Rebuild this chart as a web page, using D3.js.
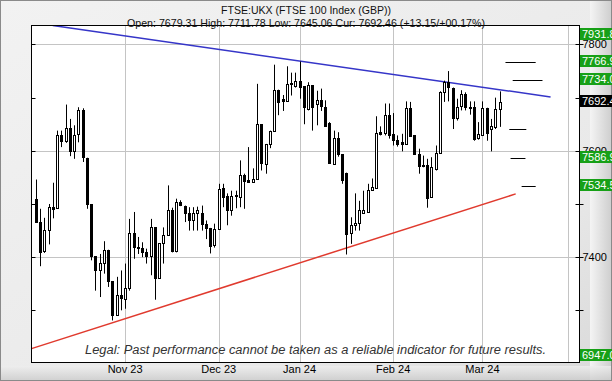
<!DOCTYPE html>
<html><head><meta charset="utf-8">
<script src="https://cdn.jsdelivr.net/npm/d3@7"></script>
<style>html,body{margin:0;padding:0;background:#fff;} svg{display:block}</style>
</head><body><svg id="c" width="612" height="381"></svg>
<script>
// Daily candles, 3 Oct 2023 .. 7 Mar 2024 (trading-day index 0..109)
const openP  = [7510,7467,7411,7451,7495,7492,7629,7618,7643,7599,7630,7676,7587,7500,7402,7376,7389,7414,7355,7291,
                7328,7322,7342,7445,7419,7417,7410,7402,7456,7361,7426,7441,7488,7411,7503,7496,7483,7469,7483,7483,
                7462,7455,7422,7453,7530,7515,7489,7516,7513,7555,7545,7542,7547,7650,7576,7613,7638,7715,7697,7693,
                7725,7723,7732,7721,7678,7723,7688,7695,7683,7652,7576,7625,7594,7559,7445,7460,7463,7483,7485,7527,
                7530,7635,7633,7667,7631,7621,7616,7613,7681,7629,7594,7574,7574,7512,7566,7596,7710,7729,7719,7662,
                7683,7706,7683,7683,7623,7631,7681,7640,7645,7679.31];
const highP  = [7546,7491,7474,7500,7540,7638,7638,7687,7660,7648,7682,7680,7587,7500,7402,7406,7430,7414,7355,7363,
                7375,7388,7472,7485,7438,7428,7416,7472,7456,7426,7456,7535,7493,7510,7507,7497,7494,7494,7495,7497,
                7469,7455,7463,7538,7538,7520,7525,7525,7582,7557,7607,7567,7726,7650,7613,7638,7762,7715,7705,7759,
                7747,7747,7768,7721,7729,7723,7713,7717,7695,7654,7638,7635,7594,7559,7475,7520,7506,7525,7538,7548,
                7665,7646,7689,7689,7671,7629,7632,7693,7692,7629,7604,7591,7585,7588,7610,7712,7732,7750,7719,7698,
                7714,7710,7693,7693,7654,7693,7681,7660,7700,7711.78];
const lowP   = [7466,7383,7408,7424,7473,7491,7607,7615,7590,7585,7616,7579,7491,7394,7337,7325,7369,7344,7281,7290,
                7300,7303,7337,7397,7406,7400,7388,7366,7320,7359,7388,7440,7409,7409,7496,7466,7450,7450,7450,7450,
                7434,7407,7418,7453,7494,7460,7478,7492,7494,7491,7541,7541,7547,7563,7557,7605,7638,7667,7675,7695,
                7704,7719,7698,7650,7676,7638,7648,7675,7646,7576,7574,7589,7538,7405,7425,7450,7450,7482,7485,7525,
                7530,7629,7629,7623,7610,7608,7599,7612,7627,7593,7557,7569,7493,7512,7563,7596,7692,7693,7641,7657,
                7676,7676,7668,7619,7621,7629,7619,7599,7641,7645.06];
const closeP = [7467,7411,7451,7495,7492,7629,7618,7643,7599,7630,7676,7587,7500,7402,7376,7389,7414,7355,7291,7328,
                7322,7342,7445,7418,7417,7409,7402,7456,7361,7426,7441,7488,7411,7503,7497,7483,7469,7483,7489,7462,
                7455,7422,7453,7529,7513,7489,7515,7514,7555,7544,7541,7547,7650,7576,7613,7638,7715,7693,7693,7725,
                7727,7732,7720,7681,7724,7682,7695,7683,7648,7576,7625,7594,7545,7445,7460,7464,7488,7488,7527,7532,
                7633,7631,7667,7629,7619,7614,7613,7681,7629,7594,7572,7572,7512,7569,7596,7710,7729,7719,7662,7683,
                7706,7682,7682,7623,7631,7681,7634,7646,7679,7692.46];

const monthLabels = ["Nov 23","Dec 23","Jan 24","Feb 24","Mar 24",""];
const monthIndex  = [21,43,62,84,105,125];
const yTickValues = [7300,7400,7500,7600,7700,7800];
const yLabelValues = [7400,7600,7800];

const levelValues = [7931.8,7766.9,7734.0,7692.46,7586.9,7534.5,6947.0];
const levelLabels = ["7931.8","7766.9","7734.0","7692.4","7586.9","7534.5","6947.0"];
const levelIsCurrent = [false,false,false,true,false,false,false];

const dashValues = [7766.9,7734.0,7640.4,7586.9,7534.5];
const dashFrom   = [110.4,112.1,111.3,111.6,114.2];
const dashTo     = [117.5,119.1,115.3,115.1,117.5];

const resistIndex = [4,121];
const resistValue = [7835.7,7701.3];
const supportIndex = [-1,112.8];
const supportValue = [7228,7519];

const titleText = "FTSE:UKX (FTSE 100 Index (GBP))";
const subText = "Open: 7679.31 High: 7711.78 Low: 7645.06 Cur: 7692.46 (+13.15/+00.17%)";
const legalText = "Legal:  Past performance cannot be taken as a reliable indicator for future results.";

const W = 612, H = 381;
const L = 31.5, R = 579.5, T = 25.5, B = 362.5;
const FONT = "Liberation Sans, Arial, sans-serif";
const svg = d3.select("#c");
const defs = svg.append("defs");
const g1 = defs.append("linearGradient").attr("id","bg").attr("x1",0).attr("y1",0).attr("x2",1).attr("y2",1);
g1.append("stop").attr("offset","0").attr("stop-color","#f2f2f2");
g1.append("stop").attr("offset","0.7").attr("stop-color","#e9e9e9");
g1.append("stop").attr("offset","1").attr("stop-color","#d9d9d9");
const g2 = defs.append("linearGradient").attr("id","rs").attr("x1",0).attr("y1",0).attr("x2",1).attr("y2",0);
g2.append("stop").attr("offset","0").attr("stop-color","#f4f4f4");
g2.append("stop").attr("offset","1").attr("stop-color","#cdcdcd");
const g3 = defs.append("linearGradient").attr("id","bs").attr("x1",0).attr("y1",0).attr("x2",0).attr("y2",1);
g3.append("stop").attr("offset","0").attr("stop-color","#eeeeee");
g3.append("stop").attr("offset","1").attr("stop-color","#c9c9c9");
defs.append("clipPath").attr("id","pc").append("rect").attr("x",L).attr("y",T).attr("width",R-L).attr("height",B-T);

svg.append("rect").attr("x",0).attr("y",0).attr("width",W).attr("height",H).attr("fill","url(#bg)");
svg.append("rect").attr("x",590).attr("y",0).attr("width",22).attr("height",H).attr("fill","url(#rs)");
svg.append("rect").attr("x",0).attr("y",366).attr("width",W).attr("height",15).attr("fill","url(#bs)").attr("opacity",0.8);
svg.append("rect").attr("x",0.5).attr("y",0.5).attr("width",W-1).attr("height",H-1).attr("fill","none").attr("stroke","#8a8a8a").attr("stroke-width",1);

const x = d3.scaleLinear().domain([-1,127.8]).range([L,R]);
const y = d3.scaleLinear().domain([7201.9,7835.7]).range([B,T]);
const px = v => Math.round(v) + 0.5;

svg.append("rect").attr("x",L).attr("y",T).attr("width",R-L).attr("height",B-T).attr("fill","#fff");

// grid
const grid = svg.append("g").attr("stroke","#c4c4c4").attr("stroke-width",1);
grid.selectAll("line.v").data(monthIndex).join("line")
  .attr("x1",d=>px(x(d))).attr("x2",d=>px(x(d))).attr("y1",T).attr("y2",B);
grid.selectAll("line.h").data(yLabelValues).join("line").attr("class","h")
  .attr("x1",L).attr("x2",R).attr("y1",d=>px(y(d))).attr("y2",d=>px(y(d)));

// trend lines
const lineGen = d3.line().x(d=>x(d[0])).y(d=>y(d[1]));
const plot = svg.append("g").attr("clip-path","url(#pc)");
plot.append("path").attr("d",lineGen(d3.zip(resistIndex,resistValue))).attr("stroke","#3535c8").attr("stroke-width",1.5).attr("fill","none");
plot.append("path").attr("d",lineGen(d3.zip(supportIndex,supportValue))).attr("stroke","#e03a2e").attr("stroke-width",1.5).attr("fill","none");

// candles
const idx = d3.range(openP.length);
const cg = plot.append("g");
cg.selectAll("line.w").data(idx).join("line")
  .attr("x1",i=>px(x(i))).attr("x2",i=>px(x(i)))
  .attr("y1",i=>y(highP[i])).attr("y2",i=>y(lowP[i]))
  .attr("stroke","#000").attr("stroke-width",1);
cg.selectAll("rect.b").data(idx).join("rect")
  .attr("x",i=>px(x(i))-1).attr("width",2)
  .attr("y",i=>Math.round(y(Math.max(openP[i],closeP[i])))+0.5)
  .attr("height",i=>Math.max(1,Math.round(Math.abs(y(openP[i])-y(closeP[i])))))
  .attr("fill",i=>closeP[i]>=openP[i]?"#fff":"#000")
  .attr("stroke","#000").attr("stroke-width",1);

// target dashes
svg.append("g").selectAll("line").data(d3.range(dashValues.length)).join("line")
  .attr("x1",i=>x(dashFrom[i])).attr("x2",i=>x(dashTo[i]))
  .attr("y1",i=>px(y(dashValues[i]))).attr("y2",i=>px(y(dashValues[i])))
  .attr("stroke","#000").attr("stroke-width",1);

// frame
svg.append("rect").attr("x",L).attr("y",T).attr("width",R-L).attr("height",B-T).attr("fill","none").attr("stroke","#000").attr("stroke-width",1);

// y ticks
const tk = svg.append("g").attr("stroke","#000");
tk.selectAll("line.r").data(yTickValues).join("line").attr("class","r")
  .attr("x1",R-4).attr("x2",R+4).attr("y1",d=>px(y(d))).attr("y2",d=>px(y(d)));
tk.selectAll("line.l").data(yTickValues).join("line").attr("class","l")
  .attr("x1",L).attr("x2",L+4).attr("y1",d=>px(y(d))).attr("y2",d=>px(y(d)));
svg.append("g").selectAll("text").data(yLabelValues).join("text")
  .attr("x",R+3).attr("y",d=>y(d)+4).text(d=>d)
  .attr("font-family",FONT).attr("font-size",11).attr("fill","#000");

// month labels
svg.append("g").selectAll("text").data(d3.range(monthLabels.length)).join("text")
  .attr("x",i=>x(monthIndex[i])).attr("y",373).attr("text-anchor","middle").text(i=>monthLabels[i])
  .attr("font-family",FONT).attr("font-size",11).attr("fill","#000");

// level labels
const lg = svg.append("g");
const lvl = d3.range(levelValues.length);
const cy = i => Math.max(T+8, Math.min(B-8, y(levelValues[i])-1));
lg.selectAll("rect").data(lvl).join("rect")
  .attr("x",580).attr("width",40).attr("y",i=>Math.round(cy(i)-6)).attr("height",12)
  .attr("fill",i=>levelIsCurrent[i]?"#000":"#17a017");
lg.selectAll("text").data(lvl).join("text")
  .attr("x",582).attr("y",i=>Math.round(cy(i)-6)+10).text(i=>levelLabels[i])
  .attr("font-family",FONT).attr("font-size",11).attr("fill","#fff");

// titles
svg.append("text").attr("x",306).attr("y",14).attr("text-anchor","middle").text(titleText)
  .attr("font-family",FONT).attr("font-size",11).attr("fill","#111")
  .attr("textLength",170).attr("lengthAdjust","spacingAndGlyphs");
svg.append("text").attr("x",306).attr("y",27).attr("text-anchor","middle").text(subText)
  .attr("font-family",FONT).attr("font-size",11).attr("fill","#111")
  .attr("textLength",358).attr("lengthAdjust","spacingAndGlyphs");
svg.append("text").attr("x",315.5).attr("y",354).attr("text-anchor","middle").text(legalText)
  .attr("font-family",FONT).attr("font-size",12).attr("font-style","italic").attr("fill","#333")
  .attr("textLength",461).attr("lengthAdjust","spacingAndGlyphs");
</script></body></html>
